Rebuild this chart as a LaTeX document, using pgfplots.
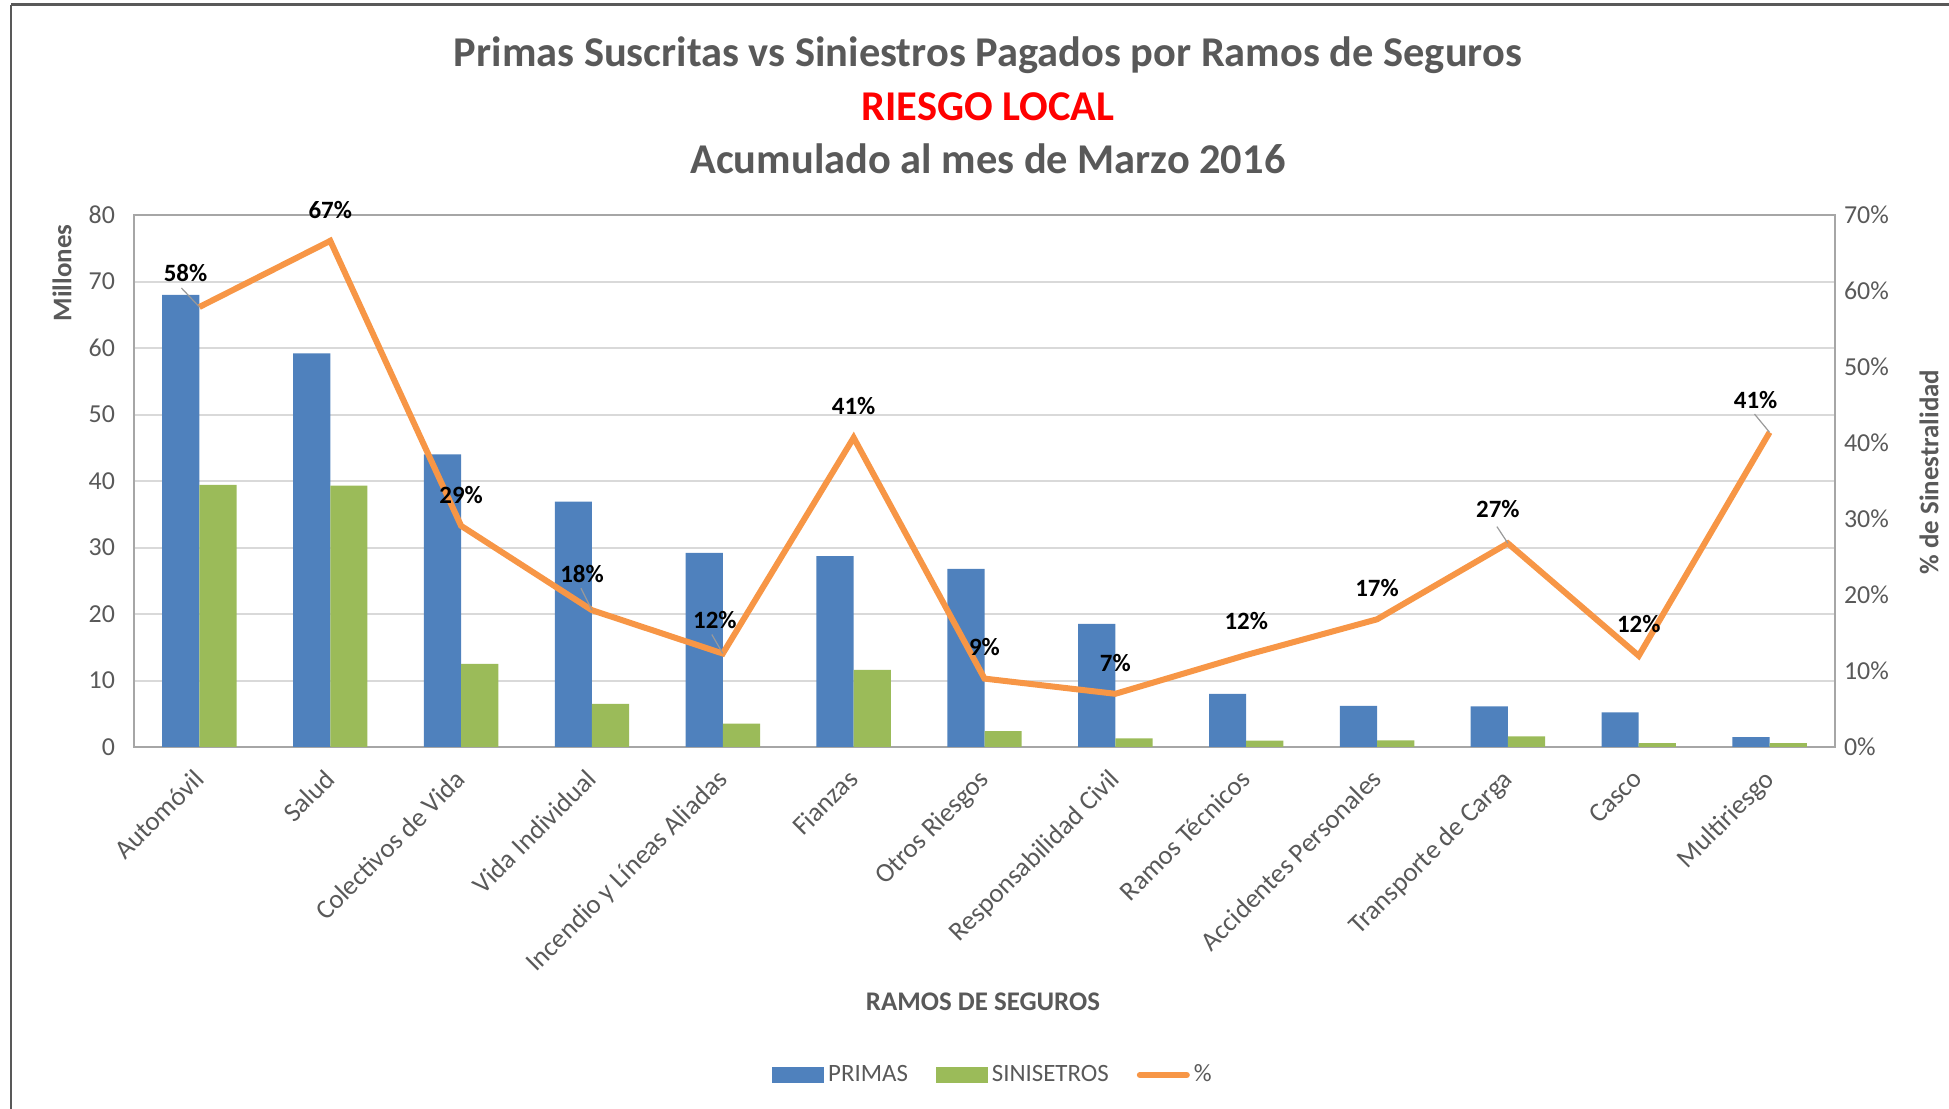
\documentclass[border=0pt]{standalone}
\usepackage{pgfplots}
\pgfplotsset{compat=1.18}
\usepackage{pgfplotstable}
\usepackage{fontspec}
\setmainfont{Carlito}
\definecolor{cblue}{HTML}{4F81BD}
\definecolor{cgreen}{HTML}{9BBB59}
\definecolor{corange}{HTML}{F79646}
\definecolor{tgray}{HTML}{595959}
\definecolor{gridc}{HTML}{D9D9D9}
\definecolor{framec}{HTML}{A6A6A6}

\pgfplotstableread{
x primas sin pct lab dx dy
0 68.0 39.4 57.9 58 -7 17
1 59.2 39.3 66.6 67 0 15.5
2 44.0 12.5 29.1 29 0 15.5
3 36.9 6.5 18.0 18 -5 18
4 29.2 3.5 12.3 12 -4 17
5 28.7 11.6 40.7 41 0 16
6 26.8 2.4 9.0 9 0 16
7 18.5 1.3 7.0 7 0 15.5
8 8.0 0.95 12.1 12 0 17
9 6.2 1.0 16.8 17 0 15.5
10 6.1 1.6 26.8 27 -5 17
11 5.2 0.6 12.0 12 0 16
12 1.5 0.6 41.4 41 -7 16
}\data

\pgfplotstableread{
x y u v
0 57.9 -0.138 2.5
3 18.0 -0.084 2.9
4 12.3 -0.084 2.5
10 26.8 -0.084 2.2
12 41.4 -0.115 2.4
}\leaders

\begin{document}
\begin{tikzpicture}
\path[use as bounding box] (0bp,0bp) rectangle (974.5bp,554.5bp);
% frame of the screenshot
\draw[color=gray!70!black, line width=1.5bp] (5.5bp,552bp) -- (974.5bp,552bp);
\draw[color=gray!70!black, line width=0.8bp] (5.5bp,552bp) -- (5.5bp,0bp);
% titles
\node[font=\bfseries\fontsize{21.3}{24}\selectfont, text=tgray] at (494bp,527bp) {Primas Suscritas vs Siniestros Pagados por Ramos de Seguros};
\node[font=\bfseries\fontsize{21.3}{24}\selectfont, text=red] at (494bp,501bp) {RIESGO LOCAL};
\node[font=\bfseries\fontsize{21.3}{24}\selectfont, text=tgray] at (494bp,475bp) {Acumulado al mes de Marzo 2016};

\begin{axis}[
  at={(67bp,181bp)}, anchor=south west, scale only axis,
  width=850.5bp, height=266bp,
  xmin=-0.5, xmax=12.5, ymin=0, ymax=80,
  ytick={0,10,...,80},
  xtick={0,...,12},
  xticklabels={Automóvil, Salud, Colectivos de Vida, Vida Individual, Incendio y Líneas Aliadas, Fianzas, Otros Riesgos, Responsabilidad Civil, Ramos Técnicos, Accidentes Personales, Transporte de Carga, Casco, Multiriesgo},
  ybar=0pt, bar width=18.6bp,
  axis line style={draw=framec, line width=0.75bp},
  ymajorgrids, grid style={draw=gridc, line width=1bp},
  major tick length=0pt,
  /pgf/number format/assume math mode=true,
  yticklabel style={font=\fontsize{13}{15}\selectfont, text=tgray, xshift=-6bp},
  xticklabel style={font=\fontsize{13.5}{15}\selectfont, text=tgray, rotate=45, anchor=north east, xshift=-6.4bp, yshift=-1.3bp},
  ylabel={Millones},
  every axis y label/.style={at={(axis description cs:-0.0423,0.891)}, rotate=90, anchor=center, font=\bfseries\fontsize{13.5}{15}\selectfont, text=tgray},
  xlabel={RAMOS DE SEGUROS},
  every axis x label/.style={at={(axis description cs:0.4991,-0.479)}, anchor=center, font=\bfseries\fontsize{13.5}{15}\selectfont, text=tgray},
]
\addplot[fill=cblue, draw=none] table[x=x, y=primas] {\data};
\addplot[fill=cgreen, draw=none] table[x=x, y=sin] {\data};
\end{axis}

\begin{axis}[
  at={(67bp,181bp)}, anchor=south west, scale only axis,
  width=850.5bp, height=266bp,
  xmin=-0.5, xmax=12.5, ymin=0, ymax=70,
  ytick={0,10,...,70},
  yticklabel={\pgfmathprintnumber{\tick}\%},
  axis y line*=right, axis x line=none,
  axis line style={draw=none},
  major tick length=0pt,
  clip=false,
  /pgf/number format/assume math mode=true,
  yticklabel style={font=\fontsize{13}{15}\selectfont, text=tgray, xshift=1bp},
  ylabel={\% de Sinestralidad},
  every axis y label/.style={at={(axis description cs:1.0553,0.517)}, rotate=90, anchor=center, font=\bfseries\fontsize{13.5}{15}\selectfont, text=tgray},
  legend columns=3,
  legend style={at={(axis description cs:0.5056,-0.6165)}, anchor=center, draw=none, fill=none,
    font=\fontsize{12.5}{14}\selectfont, text=tgray,
    /tikz/every even column/.append style={column sep=12bp}},
]
\addlegendimage{legend image code/.code={\fill[cblue] (0bp,-3.75bp) rectangle (25.5bp,3.75bp);}}
\addlegendentry{PRIMAS}
\addlegendimage{legend image code/.code={\fill[cgreen] (0bp,-3.75bp) rectangle (25.5bp,3.75bp);}}
\addlegendentry{SINISETROS}
\addplot[corange, line width=3bp, mark=none,
  legend image code/.code={\draw[corange, line width=3bp, line cap=round] (1.5bp,0bp) -- (25bp,0bp);},
  nodes near coords={\pgfmathprintnumber{\pgfplotspointmeta}\%},
  point meta=explicit,
  visualization depends on={\thisrow{dx} \as \dx},
  visualization depends on={\thisrow{dy} \as \dy},
  every node near coord/.append style={anchor=center, xshift=\dx, yshift=\dy, font=\bfseries\fontsize{12.5}{14}\selectfont, text=black},
] table[x=x, y=pct, meta=lab] {\data};
\addlegendentry{\%}
\addplot[forget plot, color=gray!80, line width=0.6bp,
  quiver={u=\thisrow{u}, v=\thisrow{v}, every arrow/.append style={-}}]
  table[x=x, y=y] {\leaders};
\end{axis}
\end{tikzpicture}
\end{document}
